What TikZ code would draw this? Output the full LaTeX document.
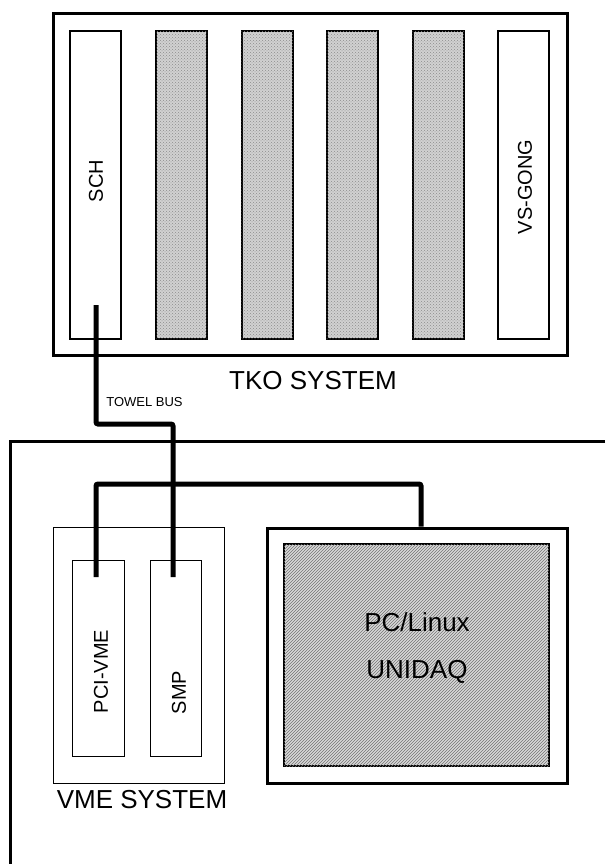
\documentclass[tikz,border=0pt]{standalone}
\usepackage{fontspec}
\setmainfont{Liberation Sans}
\usetikzlibrary{patterns}
\begin{document}
\begin{tikzpicture}[x=1pt,y=-1pt,
  box/.style={draw, line width=3pt, inner sep=0pt},
  slotbox/.style={draw, line width=2pt, inner sep=0pt, minimum width=51pt, minimum height=308pt},
  graybox/.style={slotbox, fill=black!18, postaction={pattern=crosshatch dots, pattern color=black!45}},
  thinbox/.style={draw, line width=1pt, inner sep=0pt},
  bus/.style={line width=5pt, rounded corners=2pt},
  edge/.style={line width=3pt},
  big/.style={font=\fontsize{26}{30}\selectfont},
  mid/.style={font=\fontsize{20}{24}\selectfont},
  small/.style={font=\fontsize{13}{15}\selectfont}]
\useasboundingbox (0,0) rectangle (605,864);
% TKO system
\node[box, minimum width=514pt, minimum height=341pt] (tko) at (310,184.5) {};
\node[slotbox] (sch) at (95.5,185) {};
\foreach \i/\x in {1/181.5,2/267,3/352,4/438}
  \node[graybox] (m\i) at (\x,185) {};
\node[slotbox] (gong) at (523.5,185) {};
\node[mid, rotate=90] (schl) at (96,181) {SCH};
\node[mid, rotate=90] (gongl) at (525,187) {VS-GONG};
\node[big] (tkol) at (313,381) {TKO SYSTEM};
% VME system outline
\coordinate (vr) at (605,441);
\coordinate (vc) at (10,441);
\coordinate (vb) at (10,866);
\draw[edge] (vr) -- (vc) -- (vb);
\node[thinbox, minimum width=171pt, minimum height=256pt] (vme) at (138.5,655) {};
\node[thinbox, minimum width=52pt, minimum height=196pt] (pcivme) at (98,658) {};
\node[thinbox, minimum width=51pt, minimum height=196pt] (smp) at (175.5,658) {};
\node[mid, rotate=90] (pcivmel) at (101,671.5) {PCI-VME};
\node[mid, rotate=90] (smpl) at (179,692.5) {SMP};
\node[big] (vmel) at (142,800) {VME SYSTEM};
% PC
\node[box, minimum width=300pt, minimum height=255pt] (pc) at (417,655.5) {};
\node[draw, line width=1.5pt, inner sep=0pt, minimum width=265pt, minimum height=222pt,
      fill=black!15, postaction={pattern=north east lines, pattern color=black!55}] (pcin) at (416.5,655) {};
\node[big] (pcl) at (417,622) {PC/Linux};
\node[big] (unl) at (417,672) {UNIDAQ};
% buses
\coordinate (schport) at (96,305);
\coordinate (smpport) at (173,577);
\coordinate (pciport) at (96,577);
\coordinate (b1) at (173,424);
\coordinate (b2) at (421,484);
\draw[bus] (schport) |- (b1) -- (smpport);
\draw[bus] (pciport) |- (b2) -- (b2 |- pc.north);
\node[small] (towel) at (144.5,402) {TOWEL BUS};
\end{tikzpicture}
\end{document}
